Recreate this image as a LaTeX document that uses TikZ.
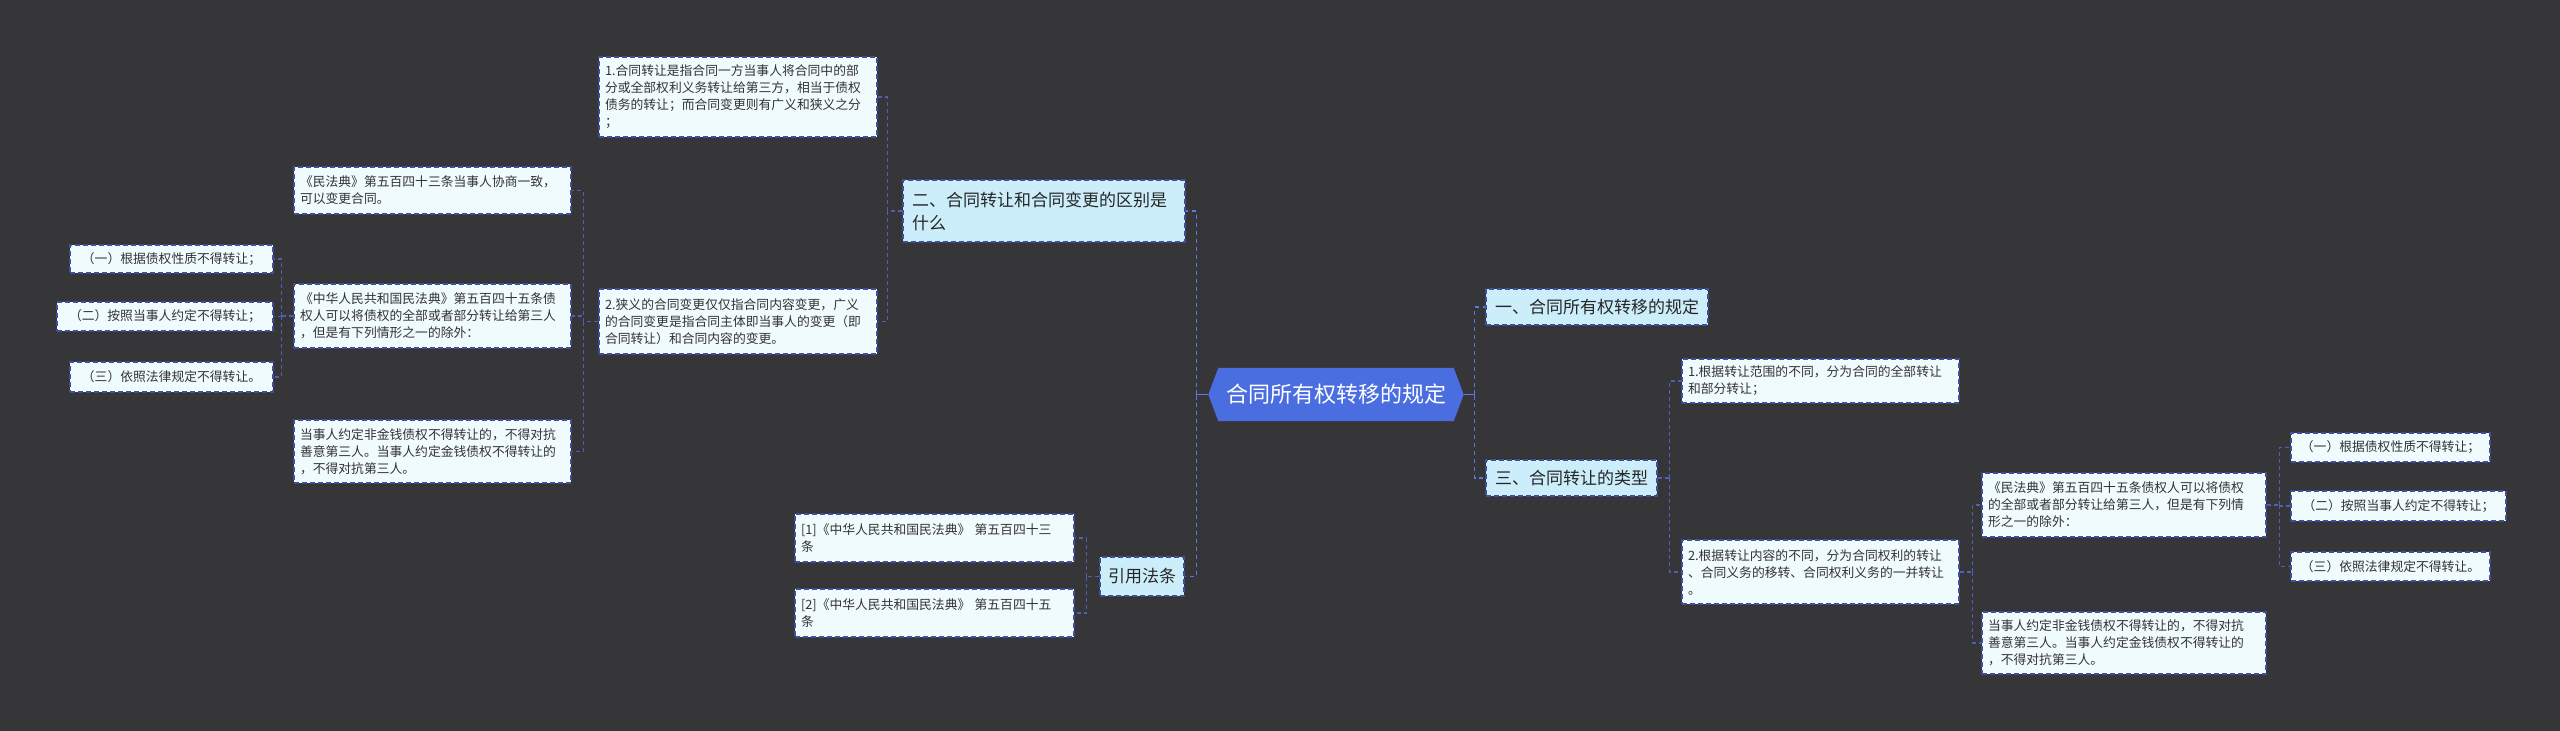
\documentclass[tikz,border=0pt]{standalone}
\usepackage{fontspec}
\setmainfont{Noto Sans CJK SC}
\usetikzlibrary{backgrounds}
\definecolor{bg}{HTML}{363537}
\definecolor{rootfill}{HTML}{4A6EE0}
\definecolor{lonefill}{HTML}{CCEEFB}
\definecolor{leaffill}{HTML}{F0FBFD}
\definecolor{edgec}{HTML}{3F4E9E}
\definecolor{connc}{HTML}{4F5FB4}
\definecolor{trunkc}{HTML}{5B78E6}
\definecolor{txt}{HTML}{333333}
\begin{document}
\begin{tikzpicture}[x=1pt,y=-1pt,
  boxbase/.style={draw=edgec, line width=1.1pt, dash pattern=on 5pt off 3pt, inner ysep=0pt},
  leafbox/.style={boxbase, fill=leaffill, text=txt, font=\fontsize{12.8}{17}\selectfont, inner xsep=6pt, align=left},
  leafone/.style={boxbase, fill=leaffill, text=txt, font=\fontsize{12.8}{17}\selectfont, inner xsep=0pt, align=center},
  lonebox/.style={boxbase, fill=lonefill, text=black!85, font=\fontsize{17}{23}\selectfont, inner xsep=9pt, align=left},
  roottext/.style={text=white, font=\fontsize{22}{26}\selectfont, inner sep=0pt, minimum width=255pt, minimum height=53pt},
  link/.style={draw=connc, line width=1.2pt, dash pattern=on 4pt off 3pt},
  trunk/.style={draw=trunkc, line width=1.5pt, dash pattern=on 4pt off 4pt},
  rootlink/.style={draw=trunkc, line width=1.5pt}]
\begin{pgfonlayer}{background}
\fill[bg] (0,0) rectangle (2560,731);
\end{pgfonlayer}
\useasboundingbox (0,0) rectangle (2560,731);

% root
\node[roottext] (root) at (1336,394.5) {合同所有权转移的规定};
\begin{pgfonlayer}{background}
\fill[rootfill] (root.west) -- ([xshift=10pt]root.north west) -- ([xshift=-10pt]root.north east) -- (root.east) -- ([xshift=-10pt]root.south east) -- ([xshift=10pt]root.south west) -- cycle;
\end{pgfonlayer}

% right side
\node[lonebox, minimum width=222pt, minimum height=36pt, align=center] (yi) at (1597,307) {一、合同所有权转移的规定};
\node[lonebox, minimum width=171pt, minimum height=36pt, align=center] (san) at (1571.5,478) {三、合同转让的类型};
\node[leafbox, text width=265pt, minimum height=44pt] (b1) at (1820.5,381) {1.根据转让范围的不同，分为合同的全部转让\\和部分转让；};
\node[leafbox, text width=265pt, minimum height=64pt] (b2) at (1820.5,572) {2.根据转让内容的不同，分为合同权利的转让\\、合同义务的移转、合同权利义务的一并转让\\。};
\node[leafbox, text width=272pt, minimum height=64pt] (c1) at (2124,505) {《民法典》第五百四十五条债权人可以将债权\\的全部或者部分转让给第三人，但是有下列情\\形之一的除外：};
\node[leafbox, text width=272pt, minimum height=62pt] (c2) at (2124,643) {当事人约定非金钱债权不得转让的，不得对抗\\善意第三人。当事人约定金钱债权不得转让的\\，不得对抗第三人。};
\node[leafone, minimum width=199pt, minimum height=29pt] (d1) at (2390.5,447.5) {（一）根据债权性质不得转让；};
\node[leafone, minimum width=215pt, minimum height=30pt] (d2) at (2398.5,506) {（二）按照当事人约定不得转让；};
\node[leafone, minimum width=199pt, minimum height=29pt] (d3) at (2390.5,566.5) {（三）依照法律规定不得转让。};

% left side
\node[lonebox, text width=264pt, minimum height=62pt] (er) at (1044,211) {二、合同转让和合同变更的区别是\\什么};
\node[leafbox, text width=266pt, minimum height=80pt] (L1) at (738,97) {1.合同转让是指合同一方当事人将合同中的部\\分或全部权利义务转让给第三方，相当于债权\\债务的转让；而合同变更则有广义和狭义之分\\；};
\node[leafbox, text width=266pt, minimum height=65pt] (L2) at (738,321.5) {2.狭义的合同变更仅仅指合同内容变更，广义\\的合同变更是指合同主体即当事人的变更（即\\合同转让）和合同内容的变更。};
\node[leafbox, text width=265pt, minimum height=47pt] (M1) at (432.5,190.5) {《民法典》第五百四十三条当事人协商一致，\\可以变更合同。};
\node[leafbox, text width=265pt, minimum height=64pt] (M2) at (432.5,316) {《中华人民共和国民法典》第五百四十五条债\\权人可以将债权的全部或者部分转让给第三人\\，但是有下列情形之一的除外：};
\node[leafbox, text width=265pt, minimum height=63pt] (M3) at (432.5,451.5) {当事人约定非金钱债权不得转让的，不得对抗\\善意第三人。当事人约定金钱债权不得转让的\\，不得对抗第三人。};
\node[leafone, minimum width=203pt, minimum height=28pt] (N1) at (171.5,259) {（一）根据债权性质不得转让；};
\node[leafone, minimum width=216pt, minimum height=29pt] (N2) at (165,316.5) {（二）按照当事人约定不得转让；};
\node[leafone, minimum width=203pt, minimum height=30pt] (N3) at (171.5,377) {（三）依照法律规定不得转让。};
\node[leafbox, text width=267pt, minimum height=48pt] (R1) at (934.5,538) {[1]《中华人民共和国民法典》 第五百四十三\\条};
\node[leafbox, text width=267pt, minimum height=48pt] (R2) at (934.5,613) {[2]《中华人民共和国民法典》 第五百四十五\\条};
\node[lonebox, minimum width=84pt, minimum height=39pt, inner xsep=0pt, align=center] (yin) at (1142,576.5) {引用法条};

% connectors
\path (root.west) ++(-12,0) coordinate (jL);
\path (root.east) ++(11,0) coordinate (jR);
\path (san.east) ++(12,0) coordinate (jS);
\path (b2.east) ++(13,0) coordinate (jB);
\path (c1.east) ++(13,0) coordinate (jC);
\path (er.west) ++(-15,0) coordinate (jE);
\path (L2.west) ++(-15,0) coordinate (jL2);
\path (M2.west) ++(-12,0) coordinate (jM);
\path (yin.west) ++(-13,0) coordinate (jY);

\draw[rootlink] (root.west) -- (jL) ++(0,-5) -- ++(0,10);
\draw[trunk] (jL) |- (er.east);
\draw[trunk] (jL) |- (yin.east);
\draw[rootlink] (root.east) -- (jR) ++(0,-5) -- ++(0,10);
\draw[trunk] (jR) |- (yi.west);
\draw[trunk] (jR) |- (san.west);
\draw[link] (san.east) -- (jS);
\draw[link] (jS) |- (b1.west);
\draw[link] (jS) |- (b2.west);
\draw[link] (b2.east) -- (jB);
\draw[link] (jB) |- (c1.west);
\draw[link] (jB) |- (c2.west);
\draw[link] (c1.east) -- (jC);
\draw[link] (jC) |- (d1.west);
\draw[link] (jC) |- (d2.west);
\draw[link] (jC) |- (d3.west);
\draw[link] (er.west) -- (jE);
\draw[link] (jE) |- (L1.east);
\draw[link] (jE) |- (L2.east);
\draw[link] (L2.west) -- (jL2);
\draw[link] (jL2) |- (M1.east);
\draw[link] (jL2) |- (M2.east);
\draw[link] (jL2) |- (M3.east);
\draw[link] (M2.west) -- (jM);
\draw[link] (jM) |- (N1.east);
\draw[link] (jM) |- (N2.east);
\draw[link] (jM) |- (N3.east);
\draw[link] (yin.west) -- (jY);
\draw[link] (jY) |- (R1.east);
\draw[link] (jY) |- (R2.east);
\end{tikzpicture}
\end{document}
